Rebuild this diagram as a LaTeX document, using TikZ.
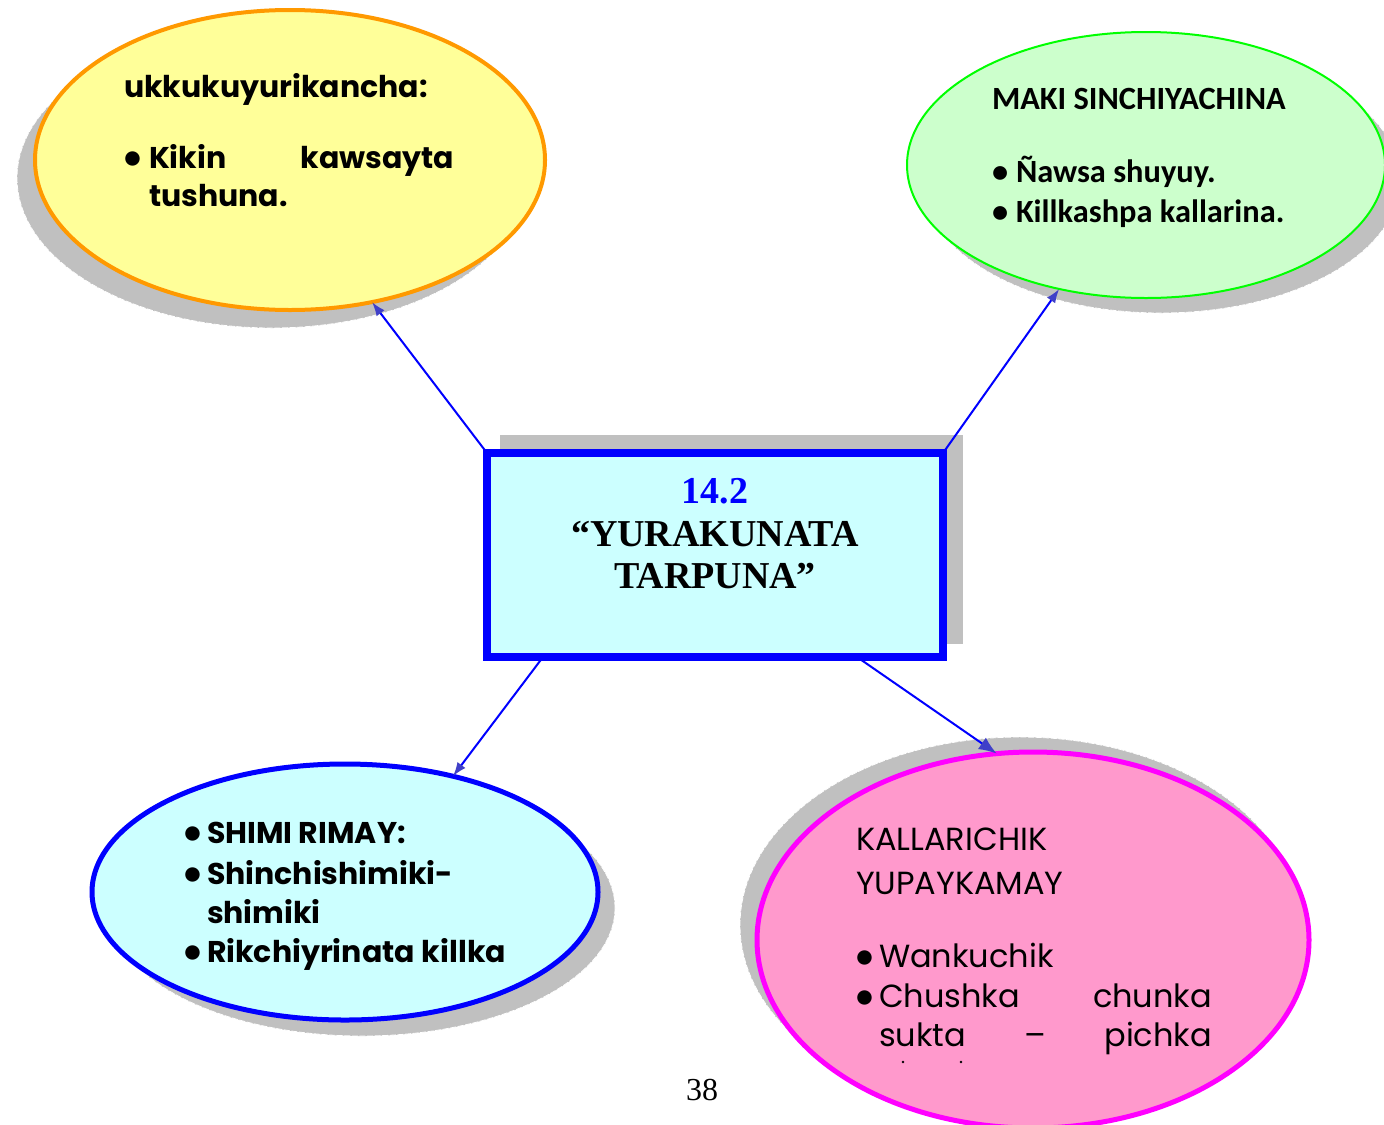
\documentclass[tikz,border=0pt]{standalone}
\usepackage{fontspec}
\setmainfont{Liberation Serif}
\newfontfamily\gothic{Poppins}
\newfontfamily\calib{Carlito}
\usetikzlibrary{shapes.geometric,arrows.meta}
\definecolor{shgray}{RGB}{192,192,192}
\definecolor{yelfill}{RGB}{255,255,153}
\definecolor{orng}{RGB}{255,153,0}
\definecolor{grnfill}{RGB}{204,255,204}
\definecolor{grn}{RGB}{0,255,0}
\definecolor{cyanfill}{RGB}{204,255,255}
\definecolor{bl}{RGB}{0,0,255}
\definecolor{pinkfill}{RGB}{255,153,204}
\definecolor{mag}{RGB}{255,0,255}
\definecolor{headblue}{RGB}{64,64,200}
\newcommand{\bigbul}{{\calib\bfseries\fontsize{17}{19}\selectfont\textbullet}}
\begin{document}
\begin{tikzpicture}[x=0.5pt,y=-0.5pt,
  oval/.style={ellipse, inner sep=0pt, outer sep=0pt},
  shadowoval/.style={oval, fill=shgray, draw=white, line width=0.4pt, dash pattern=on 3pt off 0.8pt},
  txt/.style={anchor=base west, inner sep=0pt, outer sep=0pt},
  gothb/.style={txt, font=\gothic\bfseries\fontsize{15}{18}\selectfont},
  gothr/.style={txt, font=\gothic\fontsize{16}{19}\selectfont},
  calb/.style={txt, font=\calib\bfseries\fontsize{16.2}{19}\selectfont},
  titletxt/.style={anchor=base, inner sep=0pt, font=\bfseries\fontsize{19}{21}\selectfont},
  conn/.style={draw=bl, line width=1pt, -{Latex[length=7pt,width=5pt,color=headblue]}},
  bigconn/.style={draw=bl, line width=1pt, -{Latex[length=9pt,width=7pt,color=headblue]}}
]
\useasboundingbox (0,0) rectangle (1384,1124);
\fill[white] (0,0) rectangle (1384,1124);

% shadows
\node[shadowoval, minimum width=255pt, minimum height=150pt] (ysh) at (272,178) {};
\node[shadowoval, minimum width=239pt, minimum height=133pt] (gsh) at (1161,180) {};
\node[shadowoval, minimum width=253pt, minimum height=128pt] (bsh) at (362,908) {};
\node[shadowoval, minimum width=280pt, minimum height=188pt] (psh) at (1020,925) {};

% ellipses
\node[oval, draw=orng, line width=2pt, fill=yelfill, minimum width=255pt, minimum height=150pt] (yel) at (290,160) {};
\node[oval, draw=grn, line width=1pt, fill=grnfill, minimum width=239pt, minimum height=133pt] (grnov) at (1146,165) {};
\node[oval, draw=bl, line width=2.5pt, fill=cyanfill, minimum width=253pt, minimum height=128pt] (blov) at (345,892) {};
\node[oval, draw=mag, line width=2.5pt, fill=pinkfill, minimum width=276pt, minimum height=188pt] (pnk) at (1033,940) {};

% central box
\node[fill=shgray, draw=white, line width=0.4pt, minimum width=232pt, minimum height=105pt, inner sep=0pt, outer sep=0pt] (boxsh) at (731,539) {};
\node[draw=bl, line width=4pt, fill=cyanfill, minimum width=228pt, minimum height=102pt, inner sep=0pt, outer sep=0pt] (box) at (715,555) {};

% connectors
\draw[conn] (box.north west) -- (yel.-60.5);
\draw[conn] (box.north east) -- (grnov.-125);
\draw[conn] ([xshift=28pt]box.south west) -- (blov.47.6);
\draw[bigconn] ([xshift=-43pt]box.south east) -- (pnk.101);

% title
\node[titletxt, text=bl] (t1) at (715,503) {14.2};
\node[titletxt] (t2) at (715,546) {“YURAKUNATA};
\node[titletxt] (t3) at (715,588) {TARPUNA”};

% yellow text
\node[gothb] (y1) at (124,97) {ukkukuyurikancha:};
\node[gothb] (y2) at (124,168) {\bigbul};
\node[gothb] (y3) at (149,168) {\makebox[152.5pt][l]{Kikin\hfill kawsayta}};
\node[gothb] (y4) at (149,206) {tushuna.};

% green text
\node[calb] (g1) at (992,109) {MAKI SINCHIYACHINA};
\node[calb] (g2) at (992,182) {\textbullet};
\node[calb] (g3) at (1016,182) {Ñawsa shuyuy.};
\node[calb] (g4) at (992,222) {\textbullet};
\node[calb] (g5) at (1016,222) {Killkashpa kallarina.};

% blue text
\node[gothb] (b1) at (184,843) {\bigbul};
\node[gothb] (b2) at (207,843) {SHIMI RIMAY:};
\node[gothb] (b3) at (184,884) {\bigbul};
\node[gothb] (b4) at (207,884) {Shinchishimiki-};
\node[gothb] (b5) at (207,923) {shimiki};
\node[gothb] (b6) at (184,962) {\bigbul};
\node[gothb] (b7) at (207,962) {\makebox[149.5pt][l]{Rikchiyrinata\hfill killka}};

% pink text
\node[gothr] (p1) at (856,850) {KALLARICHIK};
\node[gothr] (p2) at (856,894) {YUPAYKAMAY};
\node[gothr] (p3) at (856,967) {\bigbul};
\node[gothr] (p4) at (879,967) {Wankuchik};
\node[gothr] (p5) at (856,1007) {\bigbul};
\node[gothr] (p6) at (879,1007) {\makebox[166.5pt][l]{Chushka\hfill chunka}};
\node[gothr] (p7) at (879,1046) {\makebox[166.5pt][l]{sukta\hfill–\hfill pichka}};
\fill (903,1062) circle (0.7pt);
\fill (961,1062) circle (0.7pt);

% page number
\node[anchor=base, inner sep=0pt, font=\fontsize{16}{18}\selectfont] (pg) at (702,1100) {38};
\end{tikzpicture}
\end{document}
